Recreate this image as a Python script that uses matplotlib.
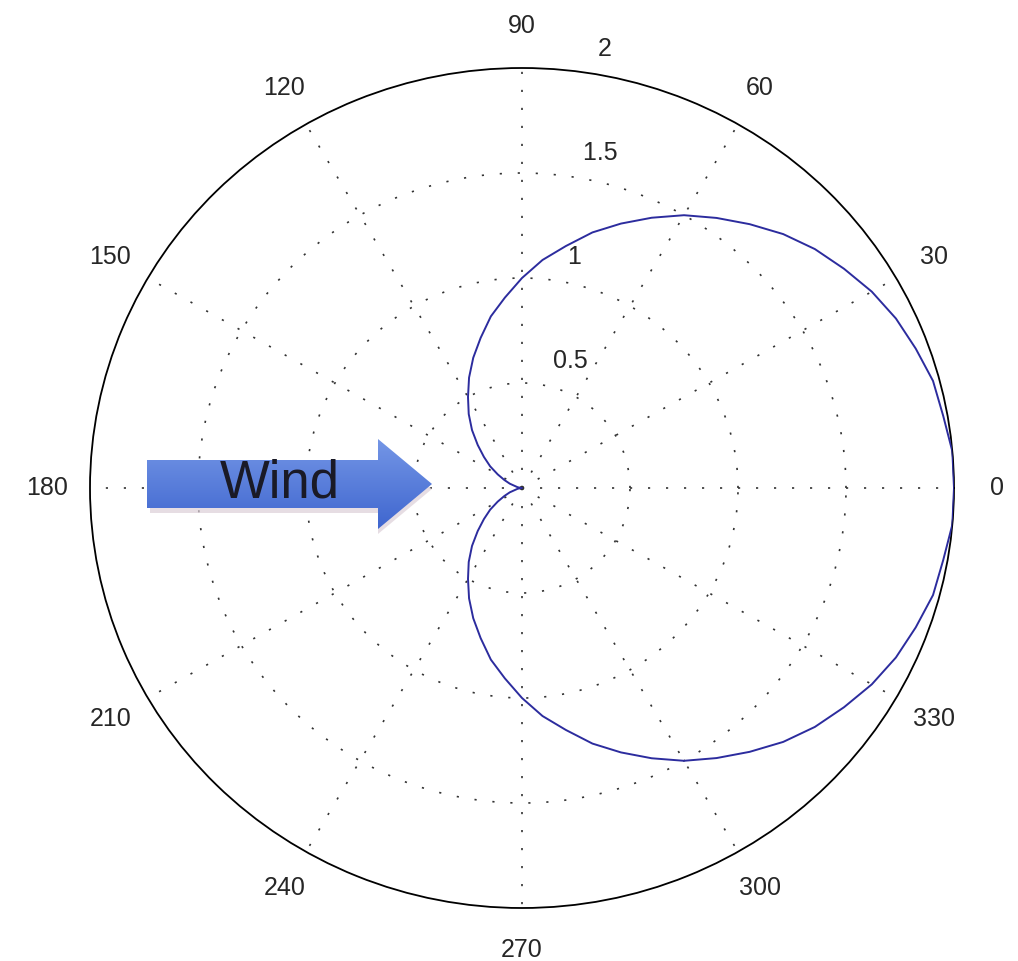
import numpy as np
import matplotlib.pyplot as plt
from matplotlib.patches import FancyArrow

# cardioid, 5 degree steps from 0 to 180 (lower half mirrors it)
angles_deg = list(range(0, 365, 5))
radius_half = [2.00, 2.00, 1.98, 1.97, 1.94, 1.91, 1.87, 1.82, 1.77, 1.71,
               1.64, 1.57, 1.50, 1.42, 1.34, 1.26, 1.17, 1.09, 1.00, 0.91,
               0.83, 0.74, 0.66, 0.58, 0.50, 0.43, 0.36, 0.29, 0.23, 0.18,
               0.13, 0.09, 0.06, 0.03, 0.02, 0.00, 0.00]
radius = radius_half + radius_half[-2::-1]

theta_ticks = list(range(0, 360, 30))
r_ticks = [0.5, 1, 1.5, 2]
r_labels = ['0.5', '1', '1.5', '2']
arrow_text = 'Wind'

W, H = 1018, 961
fig = plt.figure(figsize=(W / 100, H / 100), dpi=100)
ax = fig.add_axes([90 / W, 53 / H, 864 / W, 840 / H], projection='polar')
ax.set_aspect('auto')

dotted = (0, (1.3, 9.5))
grid_color = '#333333'

ax.plot(np.deg2rad(angles_deg), radius, color='#2c2c9e', linewidth=1.4, zorder=3)

ax.set_rlim(0, 2)
ax.set_thetagrids(theta_ticks, labels=[''] * len(theta_ticks))
ax.set_rgrids(r_ticks[:-1], labels=[''] * (len(r_ticks) - 1))
ax.grid(True, linestyle=dotted, color=grid_color, linewidth=1.2)
ax.spines['polar'].set_color('black')
ax.spines['polar'].set_linewidth(1.3)

font = dict(family=['Liberation Sans', 'DejaVu Sans'], fontsize=18, color='#262626')
for t in theta_ticks:
    ax.text(np.deg2rad(t), 2.2, str(t), ha='center', va='center', clip_on=False, **font)

# radial labels in the MATLAB position near 82 degrees
for r, lab in zip(r_ticks, r_labels):
    ax.text(np.deg2rad(82), r + 0.055, '  ' + lab, ha='left', va='bottom',
            clip_on=False, **font)

# wind arrow overlay in pixel coordinates
ov = fig.add_axes([0, 0, 1, 1], zorder=5)
ov.set_xlim(0, W)
ov.set_ylim(H, 0)
ov.axis('off')
ov.patch.set_alpha(0)

shadow = FancyArrow(150, 489, 282, 0, width=48, head_width=90, head_length=54,
                    length_includes_head=True, color='#dccfd8', alpha=0.7, lw=0)
ov.add_patch(shadow)
arrow = FancyArrow(147, 484, 285, 0, width=48, head_width=90, head_length=54,
                   length_includes_head=True, facecolor='none', edgecolor='none')
ov.add_patch(arrow)
grad = np.linspace(0, 1, 100).reshape(-1, 1)
top = np.array([0x74, 0x96, 0xe6]) / 255
bottom = np.array([0x3f, 0x66, 0xcf]) / 255
img = top + (bottom - top) * grad[..., None]
im = ov.imshow(img, extent=[147, 432, 529, 439], aspect='auto', zorder=6)
im.set_clip_path(arrow)
ov.text(280, 484, arrow_text, ha='center', va='center', fontsize=38,
        family=['Liberation Sans', 'DejaVu Sans'], color='#1a1a26', zorder=7)
ov.set_xlim(0, W)
ov.set_ylim(H, 0)

fig.savefig('out.png', dpi=100)
